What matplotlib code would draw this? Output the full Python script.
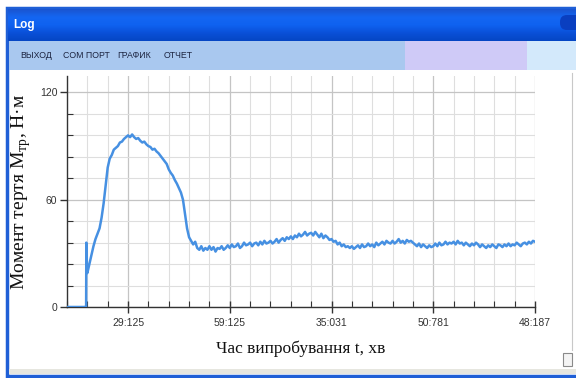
import numpy as np
import matplotlib
matplotlib.use("Agg")
import matplotlib.pyplot as plt
from matplotlib import font_manager as fm
from matplotlib.patches import Rectangle, FancyBboxPatch

# ---------------- data ----------------
tick_labels = ["29:125", "59:125", "35:031", "50:781", "48:187"]
y_major = [0, 60, 120]

t_head = [0.0, 0.92, 0.94, 0.95, 0.99]
m_head = [0.0, 0.0, 0.5, 36.0, 19.0]

m_body = [
    19, 24, 29, 34, 38, 41, 44, 50, 58, 68,
    78, 83, 85, 88, 89, 90, 92, 92.5, 94, 95,
    96, 95, 96.5, 95, 94, 94.5, 93, 92, 92.5, 91,
    90, 89.5, 88, 88.5, 87, 86, 84.5, 83, 81.5, 80,
    77, 75, 73.5, 71, 69, 66.5, 64, 60, 52, 44,
    39, 37, 35, 36.5, 33, 32, 34, 31.5, 33, 32,
    34, 32, 33.5, 31, 33, 32.5, 34, 32, 33, 34.5,
    33, 35, 33.5, 34, 35.5, 33, 34, 36, 34.5, 35,
    36, 34, 35.5, 36, 34.5, 36.5, 35, 37, 35.5, 36,
    37, 35.5, 36.5, 38, 36, 37.5, 38.5, 37, 39, 38,
    39.5, 38, 40, 39, 41, 39.5, 40.5, 42, 40, 41,
    41.5, 40, 42, 40.5, 39, 41, 38.5, 40, 39, 37.5,
    38, 36.5, 37, 35, 36, 34, 35, 33.5, 34, 33,
    34, 32.5, 33.5, 34.5, 33, 35, 33.5, 34, 35.5, 34,
    35, 33.5, 36, 34.5, 35.5, 36.5, 35, 37, 36, 35.5,
    37, 35.5, 36.5, 38, 36, 37, 35.5, 37.5, 36.5, 37,
    36, 35, 34, 35.5, 33.5, 35, 34, 33, 34.5, 33.5,
    34, 35.5, 34, 36, 34.5, 35, 36.5, 35, 36, 35.5,
    36.5, 35, 37, 35.5, 36, 34.5, 36, 35, 34, 35.5,
    34.5, 36, 35, 33.5, 35, 34, 33, 34.5, 33.5, 35,
    34, 33, 35, 34.5, 33.5, 35, 34, 35.5, 34, 35,
    34.5, 36, 35, 34, 35.5, 36, 35, 36.5, 35.5, 37,
    36.5,
]
t_body = list(np.round(np.arange(1.0, 1.0 + 0.1 * len(m_body) - 1e-9, 0.1), 2))

t = np.array(t_head + t_body)
m = np.array(m_head + m_body)

menu_items = ["ВЫХОД", "COM ПОРТ", "ГРАФИК", "ОТЧЕТ"]

# ---------------- fonts ----------------
avail = {f.name for f in fm.fontManager.ttflist}
narrow = "Liberation Sans Narrow" if "Liberation Sans Narrow" in avail else "Liberation Sans"
serif = "Liberation Serif"

W, H = 576, 378
fig = plt.figure(figsize=(W / 100, H / 100), dpi=100)
fig.patch.set_facecolor("white")

# background (pixel coords)
bg = fig.add_axes([0, 0, 1, 1])
bg.set_xlim(0, W)
bg.set_ylim(H, 0)
bg.axis("off")

# window frame
bg.add_patch(Rectangle((7, 8), 575, 368, facecolor="white", edgecolor="#1f5fd6", lw=2.5))
# title bar gradient
grad = np.linspace(0, 1, 64).reshape(-1, 1)
bg.imshow(grad, extent=(8, 576, 41, 9), aspect="auto",
          cmap=matplotlib.colors.LinearSegmentedColormap.from_list(
              "tb", ["#1a55d0", "#1466f2", "#0f62f0", "#0a50d8", "#0546c4"]), zorder=1)
bg.add_patch(FancyBboxPatch((560, 15), 30, 15, boxstyle="round,pad=0,rounding_size=7",
                            facecolor="#0a3fc0", edgecolor="none", zorder=1.5))
bg.text(13, 25, "Log", color="white", fontsize=8.5, fontweight="bold",
        family=narrow, va="center", ha="left", zorder=2)
# menu bar
bg.add_patch(Rectangle((9, 41), 396, 29, facecolor="#a9c8ef", edgecolor="none", zorder=1))
bg.add_patch(Rectangle((405, 41), 122, 29, facecolor="#cfcaf7", edgecolor="none", zorder=1))
bg.add_patch(Rectangle((527, 41), 49, 29, facecolor="#d3e9fb", edgecolor="none", zorder=1))
for txt, xp in zip(menu_items, [20, 63, 117, 164]):
    bg.text(xp, 56, txt, fontsize=6.3, family=narrow, color="#1c2440",
            va="center", ha="left", zorder=2)
# bottom strip
bg.add_patch(Rectangle((9, 369), 567, 5, facecolor="#e6e6df", edgecolor="none", zorder=1))
# small checkbox
bg.add_patch(Rectangle((563, 353), 9, 13, facecolor="#f4f4f4", edgecolor="#8a8a8a", lw=0.8, zorder=2))
# right edge line
bg.plot([572, 572], [73, 350], color="#c8c8c8", lw=0.8, zorder=1)

# ---------------- chart ----------------
ax = fig.add_axes([67 / W, 1 - 307 / H, (535 - 67) / W, (307 - 76) / H])
ax.set_facecolor("white")
ax.plot(t, m, color="#4690e2", lw=1.8, zorder=3, solid_joinstyle="round")

ax.set_xlim(0, 23)
ax.set_ylim(0, 129.2)
ax.set_xticks([3, 8, 13, 18, 23])
ax.set_xticklabels(tick_labels, family=narrow, fontsize=7.5, color="#333333")
ax.set_xticks(range(0, 24), minor=True)
ax.set_yticks(y_major)
ax.set_yticklabels([str(v) for v in y_major], family=narrow, fontsize=7.5, color="#333333")
ax.set_yticks(range(0, 121, 12), minor=True)

ax.grid(which="minor", color="#dedede", lw=0.8, zorder=0)
ax.grid(which="major", color="#c4c4c4", lw=0.9, zorder=0)
ax.set_axisbelow(True)

for s in ["top", "right"]:
    ax.spines[s].set_visible(False)
for s in ["left", "bottom"]:
    ax.spines[s].set_color("#333333")
    ax.spines[s].set_linewidth(1.0)

ax.tick_params(axis="x", which="major", direction="inout", length=8, width=1,
               color="#333333", pad=4)
ax.tick_params(axis="x", which="minor", direction="in", length=4, width=0.8,
               color="#333333")
ax.tick_params(axis="y", which="major", direction="out", length=5, width=1,
               color="#333333", pad=2)
ax.tick_params(axis="y", which="minor", direction="in", length=4, width=0.8,
               color="#333333")

ax.set_ylabel("Момент тертя M$_{\\mathregular{тр}}$, Н·м", family=serif,
              fontsize=14, color="#111111", labelpad=5)
ax.set_xlabel("Час випробування t, хв", family=serif, fontsize=12.5,
              color="#111111", labelpad=9)

fig.savefig("out.png", dpi=100)
